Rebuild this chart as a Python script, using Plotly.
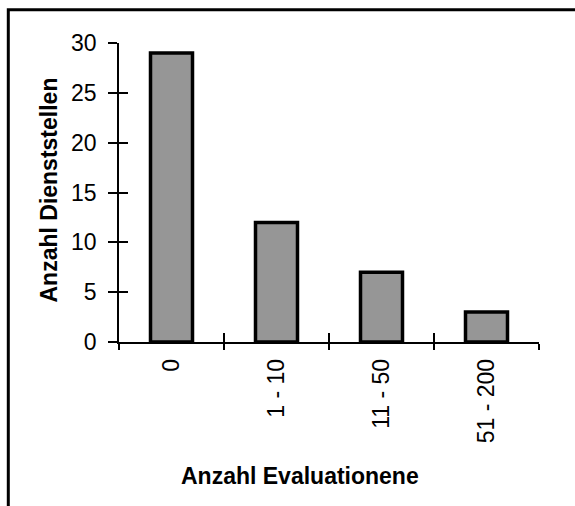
import plotly.graph_objects as go

categories = ["0", "1 - 10", "11 - 50", "51 - 200"]
counts = [29, 12, 7, 3]
y_ticks = [0, 5, 10, 15, 20, 25, 30]
x_title = "Anzahl Evaluationene"
y_title = "Anzahl Dienststellen"

W, H = 575, 506
L, R, T, B = 119, 36, 43, 164
pw, ph = W - L - R, H - T - B

def px_x(p):
    return (p - L) / pw

def px_y(p):
    return (H - B - p) / ph

FONT = "Liberation Sans, Arial, sans-serif"
FS = 23

fig = go.Figure()
fig.add_trace(go.Bar(
    x=categories, y=counts, width=0.4,
    marker=dict(color="#969696", line=dict(color="black", width=3.5)),
    hoverinfo="skip", showlegend=False,
))
# invisible copy to carry the inside tick marks of the overlaid axes
fig.add_trace(go.Bar(
    x=categories, y=counts, width=0.4, xaxis="x2", yaxis="y2",
    marker=dict(color="rgba(0,0,0,0)", line=dict(width=0)),
    hoverinfo="skip", showlegend=False,
))

axis_common = dict(showgrid=False, zeroline=False, color="black")
fig.update_layout(
    width=W, height=H,
    margin=dict(l=L, r=R, t=T, b=B, pad=0),
    paper_bgcolor="white", plot_bgcolor="white",
    font=dict(family=FONT, size=FS, color="black"),
    bargap=0.6,
    xaxis=dict(
        **axis_common, type="category", categoryorder="array", categoryarray=categories,
        range=[-0.5, len(categories) - 0.5], tickson="boundaries",
        ticks="outside", ticklen=6, tickwidth=1.5, tickcolor="black",
        showline=True, linecolor="black", linewidth=1.5,
        tickangle=-90, tickfont=dict(size=FS, family=FONT, color="black"),
        ticklabelstandoff=6,
    ),
    yaxis=dict(
        **axis_common, range=[0, 30], tickvals=y_ticks,
        ticks="outside", ticklen=9, tickwidth=1.5, tickcolor="black",
        showline=True, linecolor="black", linewidth=1.5,
        tickfont=dict(size=FS, family=FONT, color="black"),
        ticklabelstandoff=7,
    ),
    xaxis2=dict(
        **axis_common, overlaying="x", type="category", categoryorder="array",
        categoryarray=categories, range=[-0.5, len(categories) - 0.5],
        tickson="boundaries", ticks="inside", ticklen=9, tickwidth=1.5,
        tickcolor="black", showticklabels=False, showline=False,
    ),
    yaxis2=dict(
        **axis_common, overlaying="y", range=[0, 30], tickvals=y_ticks,
        ticks="inside", ticklen=9, tickwidth=1.5, tickcolor="black",
        showticklabels=False, showline=False,
    ),
    annotations=[
        dict(text=f"<b>{x_title}</b>", xref="paper", yref="paper",
             x=px_x(299.5), y=px_y(476), xanchor="center", yanchor="middle",
             showarrow=False, font=dict(size=FS, family=FONT, color="black")),
        dict(text=f"<b>{y_title}</b>", xref="paper", yref="paper",
             x=px_x(48.5), y=px_y(190), xanchor="center", yanchor="middle",
             textangle=-90, showarrow=False,
             font=dict(size=FS, family=FONT, color="black")),
    ],
    shapes=[
        dict(type="rect", xref="paper", yref="paper",
             x0=px_x(8.3), x1=px_x(640), y0=px_y(560), y1=px_y(9.7),
             line=dict(color="black", width=3), fillcolor="rgba(0,0,0,0)",
             layer="above"),
    ],
)

fig.write_html(
    "out.html",
    config={"displayModeBar": False},
    post_script="document.body.style.margin='0';document.body.style.overflow='hidden';",
)
